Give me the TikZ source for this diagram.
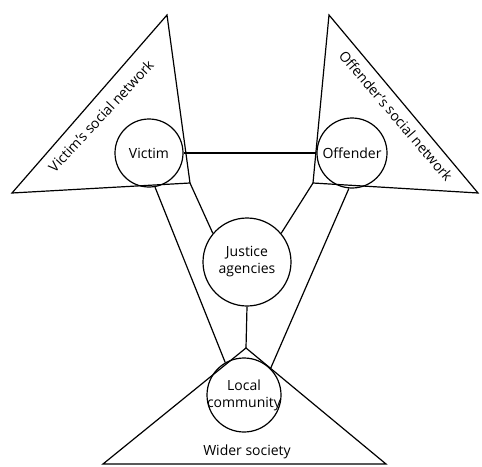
\documentclass[tikz,border=0pt]{standalone}
\usepackage{fontspec}
\setmainfont{Open Sans}
\usetikzlibrary{calc}

\begin{document}
\begin{tikzpicture}[x=0.5pt,y=-0.5pt,line width=0.6pt,
	txt/.style={font=\fontsize{7}{8.5}\selectfont},
	actor/.style={draw,circle,inner sep=0pt,align=center,txt}]
					\useasboundingbox (0,0) rectangle (482,466);
					%SOCIAL NETWORKS
					\coordinate (vtop) at (167,15);
					\coordinate (vleft) at (12,193);
					\coordinate (vright) at (190,183);
					\draw (vtop) -- (vleft) -- (vright) -- cycle;
					\node[txt,rotate=47] at (101,116) {Victim's social network};
					
					\coordinate (otop) at (329,15);
					\coordinate (oleft) at (313,183);
					\coordinate (oright) at (478,193);
					\draw (otop) -- (oleft) -- (oright) -- cycle;
					\node[txt,rotate=-49.5] at (396,116) {Offender's social network};
					
					%WIDER SOCIETY
					\coordinate (stop) at (246,348);
					\coordinate (sleft) at (103,464);
					\coordinate (sright) at (386,464);
					\draw (stop) -- (sleft) -- (sright) -- cycle;
					\node[txt] at (247,452) {Wider society};
					
					%PARTIES
					\node[actor,minimum size=34pt] (victim) at (149,153) {Victim};
					\node[actor,minimum size=35pt] (offender) at (352,153) {Offender};
					\node[actor,minimum size=44pt] (justice) at (247,262) {Justice\\agencies};
					\node[actor,minimum size=37pt,label={[txt,align=center]center:Local\\community}] (local) at (244,395) {};
					
					%LINKS
					\draw (victim.east) -- (offender.west);
					\draw (vright) -- (justice.140);
					\draw (oleft) -- (justice.40);
					\draw (victim.280) -- (local.120);
					\draw (offender.265) -- (local.45);
					\draw (justice.south) -- (stop);
				  \end{tikzpicture}
\end{document}
